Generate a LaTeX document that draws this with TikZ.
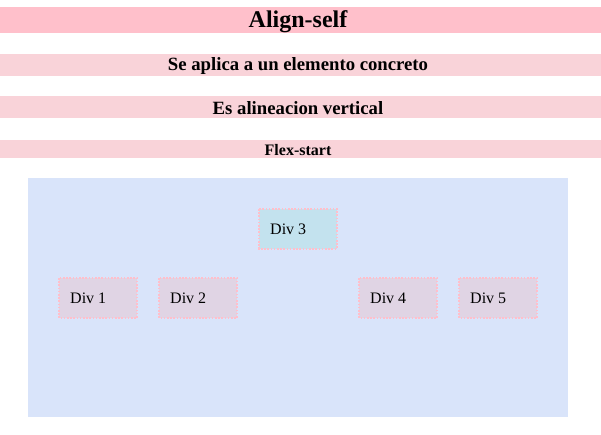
\documentclass[tikz,border=0pt]{standalone}
\usepackage{fontspec}
\setmainfont{Liberation Serif}
\definecolor{titlepink}{HTML}{FFC0CB}
\definecolor{bandpink}{HTML}{F9D3D9}
\definecolor{contblue}{HTML}{D9E4FA}
\definecolor{divthree}{HTML}{C3E2EE}
\definecolor{divmauve}{HTML}{E0D4E4}
\definecolor{dotpink}{HTML}{FFBFCB}
\newcommand{\headtxt}[2]{{\fontsize{#1}{#1}\selectfont\bfseries #2}}
\tikzset{
  band/.style={fill=bandpink, draw=none},
  divbox/.style={fill=divmauve, draw=dotpink, line width=1.6pt, dash pattern=on 1.6pt off 1.6pt},
  divlabel/.style={anchor=west, inner sep=0pt, font=\fontsize{16}{18}\selectfont}
}
\begin{document}
\begin{tikzpicture}[x=1pt,y=-1pt]
\useasboundingbox (0,0) rectangle (601,435);
\fill[white] (0,0) rectangle (601,435);
% bands
\fill[titlepink] (0,7) rectangle (601,33.5);
\node (title) at (298,22) {\headtxt{24}{Align-self}};
\fill[band] (0,54) rectangle (601,75.7);
\node (s1) at (298,66.3) {\headtxt{18.72}{Se aplica a un elemento concreto}};
\fill[band] (0,96) rectangle (601,117.7);
\node (s2) at (298,108.3) {\headtxt{18.72}{Es alineacion vertical}};
\fill[band] (0,140) rectangle (601,157.7);
\node (s3) at (298,150) {\headtxt{16}{Flex-start}};
% container
\fill[contblue] (28,178) rectangle (568,417);
% divs
\draw[divbox,fill=divthree] (259,209) rectangle (337,248.7);
\node[divlabel] (d3) at (270,229) {Div 3};
\draw[divbox] (59,278) rectangle (137,318);
\node[divlabel] (d1) at (70,298.5) {Div 1};
\draw[divbox] (159,278) rectangle (237,318);
\node[divlabel] (d2) at (170,298.5) {Div 2};
\draw[divbox] (359,278) rectangle (437,318);
\node[divlabel] (d4) at (370,298.5) {Div 4};
\draw[divbox] (459,278) rectangle (537,318);
\node[divlabel] (d5) at (470,298.5) {Div 5};
\end{tikzpicture}
\end{document}
